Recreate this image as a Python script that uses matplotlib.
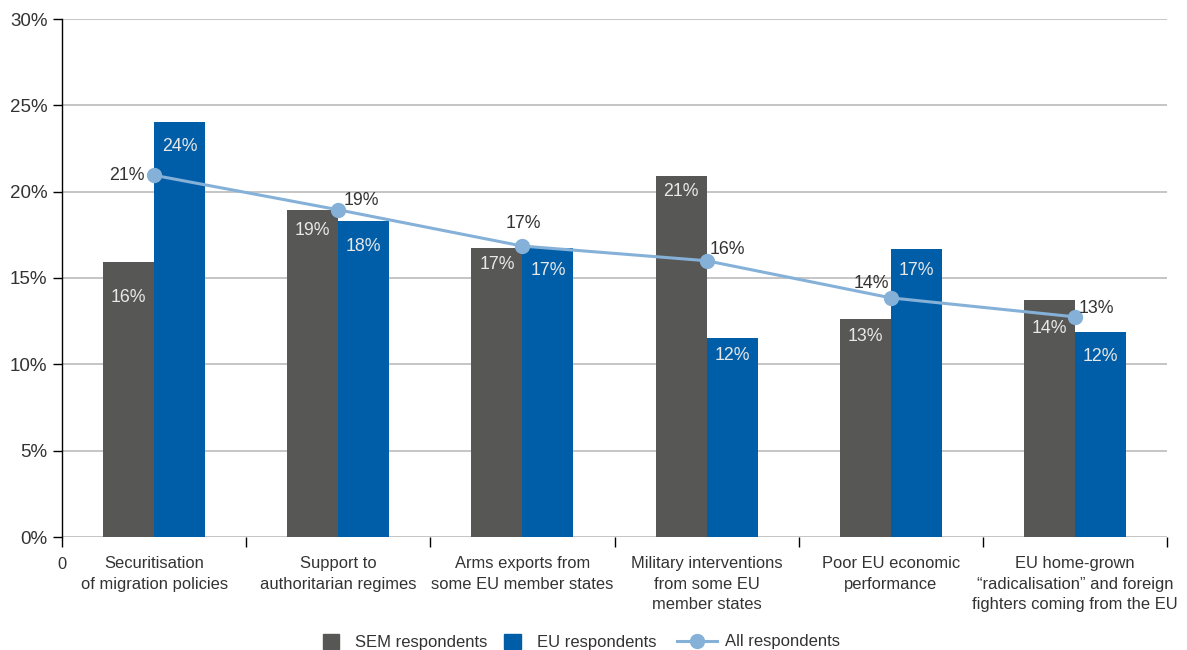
import matplotlib
matplotlib.use("Agg")
import matplotlib.pyplot as plt
import numpy as np
from matplotlib.patches import Patch
from matplotlib.lines import Line2D

plt.rcParams['font.family'] = ['Liberation Sans', 'DejaVu Sans']

categories = [
    "Securitisation\nof migration policies",
    "Support to\nauthoritarian regimes",
    "Arms exports from\nsome EU member states",
    "Military interventions\nfrom some EU\nmember states",
    "Poor EU economic\nperformance",
    "EU home-grown\n\u201cradicalisation\u201d and foreign\nfighters coming from the EU",
]
sem_values = [15.9, 18.95, 16.75, 20.9, 12.65, 13.75]
eu_values = [24.05, 18.3, 16.75, 11.5, 16.7, 11.9]
all_values = [20.95, 18.95, 16.85, 16.0, 13.85, 12.75]
sem_labels = ["16%", "19%", "17%", "21%", "13%", "14%"]
eu_labels = ["24%", "18%", "17%", "12%", "17%", "12%"]
all_labels = ["21%", "19%", "17%", "16%", "14%", "13%"]
yticks = [0, 5, 10, 15, 20, 25, 30]
ytick_labels = ["0%", "5%", "10%", "15%", "20%", "25%", "30%"]

# styles
SEM_C = "#575756"
EU_C = "#005EA8"
ALL_C = "#85B1D8"
TXT = "#333333"
LBL = "#e8e8e8"
sem_off = [-25, -15, -12, -11, -13, -21]   # label offsets (pt) below bar top
eu_off = [-18, -18, -16, -12, -16, -18]
all_off = [(-7, 0, 'right', 'center'), (4, 7, 'left', 'center'), (1, 10, 'center', 'bottom'),
           (2, 8, 'left', 'center'), (-1, 4, 'right', 'bottom'), (3, 6, 'left', 'center')]
FS = 12.8

fig = plt.figure(figsize=(11.87, 6.5), dpi=100)
ax = fig.add_axes([62/1187, 1-537/650, (1167-62)/1187, (537-19)/650])

x = np.arange(len(categories))
w = 0.277
ax.bar(x - w/2, sem_values, w, color=SEM_C, zorder=2)
ax.bar(x + w/2, eu_values, w, color=EU_C, zorder=2)
ax.plot(x, all_values, color=ALL_C, lw=2.2, marker='o', ms=10, zorder=3)

for i in range(len(x)):
    ax.annotate(sem_labels[i], (x[i] - w/2, sem_values[i]), xytext=(0, sem_off[i]),
                textcoords='offset points', ha='center', va='center', color=LBL, fontsize=FS, zorder=4)
    ax.annotate(eu_labels[i], (x[i] + w/2, eu_values[i]), xytext=(0, eu_off[i]),
                textcoords='offset points', ha='center', va='center', color=LBL, fontsize=FS, zorder=4)
    dx, dy, ha, va = all_off[i]
    ax.annotate(all_labels[i], (x[i], all_values[i]), xytext=(dx, dy),
                textcoords='offset points', ha=ha, va=va, color=TXT, fontsize=FS, zorder=4)

ax.set_xlim(-0.5, len(categories) - 0.5)
ax.set_ylim(0, 30)
ax.set_yticks(yticks)
ax.set_yticklabels(ytick_labels)
ax.yaxis.grid(True, color="#b5b5b5", lw=1.1, zorder=0)
ax.set_axisbelow(True)
ax.tick_params(axis='y', length=6.5, width=1, color='black', labelsize=13.5, labelcolor=TXT, pad=4)

ax.set_xticks(x)
ax.set_xticklabels(categories, fontsize=11.9, color=TXT, linespacing=1.45)
ax.tick_params(axis='x', which='major', length=0, pad=14)
ax.set_xticks(np.arange(-0.5, len(categories)), minor=True)
ax.tick_params(axis='x', which='minor', length=7.5, width=1, color='black', direction='out')

for s in ['top', 'right', 'bottom']:
    ax.spines[s].set_visible(False)
ax.spines['left'].set_color('black')
ax.spines['left'].set_linewidth(1)

ax.annotate("0", (-0.5, 0), xytext=(0, -19.5), textcoords='offset points',
            ha='center', va='center', fontsize=11.9, color=TXT)

patch_handles = [Patch(color=SEM_C, label="SEM respondents"),
                 Patch(color=EU_C, label="EU respondents")]
line_handles = [Line2D([], [], color=ALL_C, lw=2.2, marker='o', ms=10, label="All respondents")]
fig.legend(handles=patch_handles, loc='center', bbox_to_anchor=(489.5/1187, 0.0125), ncol=2,
           frameon=False, fontsize=12, handlelength=1.0, handleheight=1.0,
           columnspacing=1.0, handletextpad=0.95, labelcolor=TXT, borderpad=0)
fig.legend(handles=line_handles, loc='center', bbox_to_anchor=(758.5/1187, 0.0125), ncol=1,
           frameon=False, fontsize=12, handlelength=2.4, handletextpad=0.5,
           labelcolor=TXT, borderpad=0)

fig.savefig("out.png", dpi=100)
